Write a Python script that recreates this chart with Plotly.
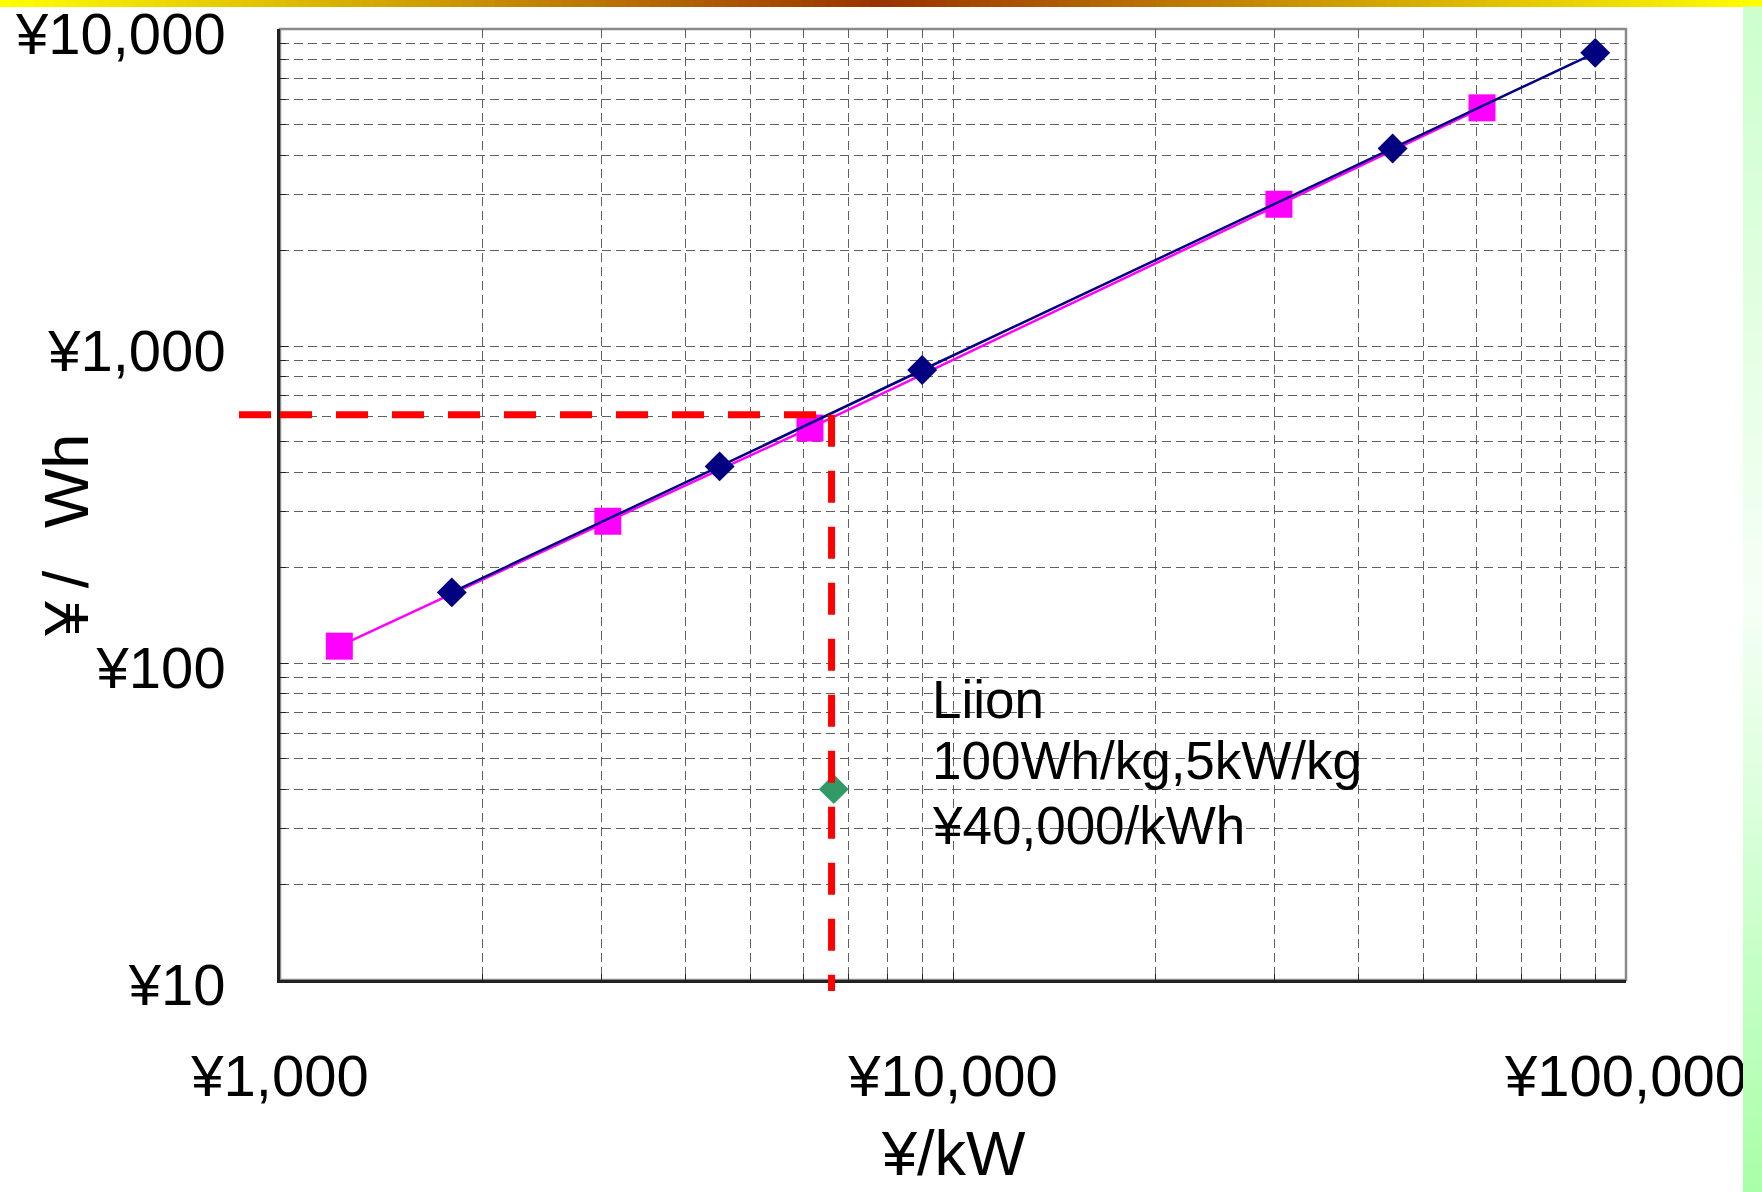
import plotly.graph_objects as go

# ---------------- data ----------------
kw_navy = [1800, 4500, 9000, 45000, 90000]          # ¥/kW
wh_navy = [167, 417, 840, 4200, 8410]               # ¥/Wh
kw_magenta = [1225, 3070, 6130, 30500, 61100]       # ¥/kW
wh_magenta = [113, 280, 551, 2800, 5640]            # ¥/Wh
liion_kw = [6650]
liion_wh = [40]
guide_kw = 6600
guide_wh = 607
liion_lines = ["Liion", "100Wh/kg,5kW/kg", "¥40,000/kWh"]

x_tickvals = [1000, 10000, 100000]
x_ticktext = ["¥1,000", "¥10,000", "¥100,000"]
y_tickvals = [10, 100, 1000, 10000]
y_ticktext = ["¥10", "¥100", "¥1,000", "¥10,000"]
x_title = "¥/kW"
y_title = "¥\u2009/\u00a0\u2009\u2009Wh"

# ---------------- layout geometry ----------------
W, H = 1762, 1192
L, R, T, B = 280, 1626, 29, 980
PW, PH = R - L, B - T

def px_x(px):
    return (px - L) / PW

def px_y(py):
    return (B - py) / PH

x_minor = [m * 10 ** k for k in range(3, 5) for m in range(2, 10)]
y_minor = [m * 10 ** k for k in range(1, 4) for m in range(2, 10)]

FONT = "Liberation Sans, Arial, Helvetica, sans-serif"
GRID = "#606060"
GDASH = "9px,5px"

fig = go.Figure()

fig.add_trace(go.Scatter(
    x=kw_magenta, y=wh_magenta, mode="lines+markers",
    line=dict(color="#FF00FF", width=2.5),
    marker=dict(symbol="square", size=27, color="#FF00FF"),
    showlegend=False))

fig.add_trace(go.Scatter(
    x=kw_navy, y=wh_navy, mode="lines+markers",
    line=dict(color="#000080", width=2.5),
    marker=dict(symbol="diamond", size=23, color="#000080"),
    showlegend=False))

fig.add_trace(go.Scatter(
    x=liion_kw, y=liion_wh, mode="markers",
    marker=dict(symbol="diamond", size=23, color="#339966"),
    showlegend=False))

shapes = []

# plot frame (gray top/right)
shapes.append(dict(type="rect", xref="paper", yref="paper", x0=0, x1=1, y0=0, y1=1,
                   line=dict(color="#8a8a8a", width=2.5), layer="below"))

# red dashed guide lines
red = dict(color="#FF0000", width=7, dash="32px,24px")
shapes.append(dict(type="line", xref="x", yref="y", x0=x_tickvals[0], x1=guide_kw,
                   y0=guide_wh, y1=guide_wh, line=red))
shapes.append(dict(type="line", xref="paper", yref="y", x0=px_x(239), x1=0,
                   y0=guide_wh, y1=guide_wh, line=red))
shapes.append(dict(type="line", xref="x", yref="y", x0=guide_kw, x1=guide_kw,
                   y0=guide_wh, y1=y_tickvals[0], line=red))
shapes.append(dict(type="line", xref="x", yref="paper", x0=guide_kw, x1=guide_kw,
                   y0=0, y1=px_y(991), line=red))

# top gradient bar
N = 160
for i in range(N):
    t = (i + 0.5) / N
    f = 1 - abs(2 * t - 1)  # 0 at edges, 1 in center
    r = round(255 + (153 - 255) * f)
    g = round(255 + (51 - 255) * f)
    b = 0
    shapes.append(dict(type="rect", xref="paper", yref="paper",
                       x0=px_x(i * W / N - 0.5), x1=px_x((i + 1) * W / N + 0.5),
                       y0=px_y(7), y1=px_y(0),
                       fillcolor=f"rgb({r},{g},{b})", line=dict(width=0)))

# right green stripe
M = 80
for i in range(M):
    t = (i + 0.5) / M
    if t < 0.5:
        u = t / 0.5
        c0, c1 = (204, 255, 204), (246, 255, 246)
    else:
        u = (t - 0.5) / 0.5
        c0, c1 = (246, 255, 246), (168, 255, 168)
    col = tuple(round(a + (bb - a) * u) for a, bb in zip(c0, c1))
    y_top = 7 + i * (H - 7) / M
    y_bot = 7 + (i + 1) * (H - 7) / M
    shapes.append(dict(type="rect", xref="paper", yref="paper",
                       x0=px_x(1743), x1=px_x(W + 2),
                       y0=px_y(y_bot + 0.5), y1=px_y(y_top - 0.5),
                       fillcolor=f"rgb{col}", line=dict(width=0)))

annotations = []
# Liion label
for line, yc in zip(liion_lines, [699, 760, 825]):
    annotations.append(dict(text=line, xref="paper", yref="paper", x=px_x(930), y=px_y(yc),
                            xanchor="left", yanchor="middle", showarrow=False,
                            font=dict(family=FONT, size=53, color="black")))
# axis titles
annotations.append(dict(text=x_title, xref="paper", yref="paper", x=px_x(953), y=px_y(1153),
                        xanchor="center", yanchor="middle", showarrow=False,
                        font=dict(family=FONT, size=63, color="black")))
annotations.append(dict(text=y_title, xref="paper", yref="paper", x=px_x(66), y=px_y(536),
                        xanchor="center", yanchor="middle", showarrow=False, textangle=-90,
                        font=dict(family=FONT, size=63, color="black")))

axis_common = dict(
    type="log", showgrid=True, gridcolor=GRID, gridwidth=1, griddash=GDASH,
    showline=True, linecolor="#222222", linewidth=2.5, zeroline=False,
    ticks="inside", ticklen=8, tickcolor="#222222",
    ticklabeloverflow="allow", automargin=False,
    tickfont=dict(family=FONT, size=58, color="black"),
)

fig.update_layout(
    width=W, height=H,
    margin=dict(l=L, r=W - R, t=T, b=H - B, autoexpand=False),
    paper_bgcolor="white", plot_bgcolor="white",
    showlegend=False,
    xaxis=dict(range=[3, 5], tickvals=x_tickvals, ticktext=x_ticktext,
               ticklabelstandoff=44,
               minor=dict(tickvals=x_minor, showgrid=True, gridcolor=GRID, gridwidth=1,
                          griddash=GDASH, ticks="inside", ticklen=6, tickcolor="#222222"),
               **axis_common),
    yaxis=dict(range=[1, 4], tickvals=y_tickvals, ticktext=y_ticktext,
               ticklabelstandoff=40, ticklabelshift=5,
               minor=dict(tickvals=y_minor, showgrid=True, gridcolor=GRID, gridwidth=1,
                          griddash=GDASH, ticks="inside", ticklen=6, tickcolor="#222222"),
               **axis_common),
    shapes=shapes,
    annotations=annotations,
)

fig.write_html("out.html")
